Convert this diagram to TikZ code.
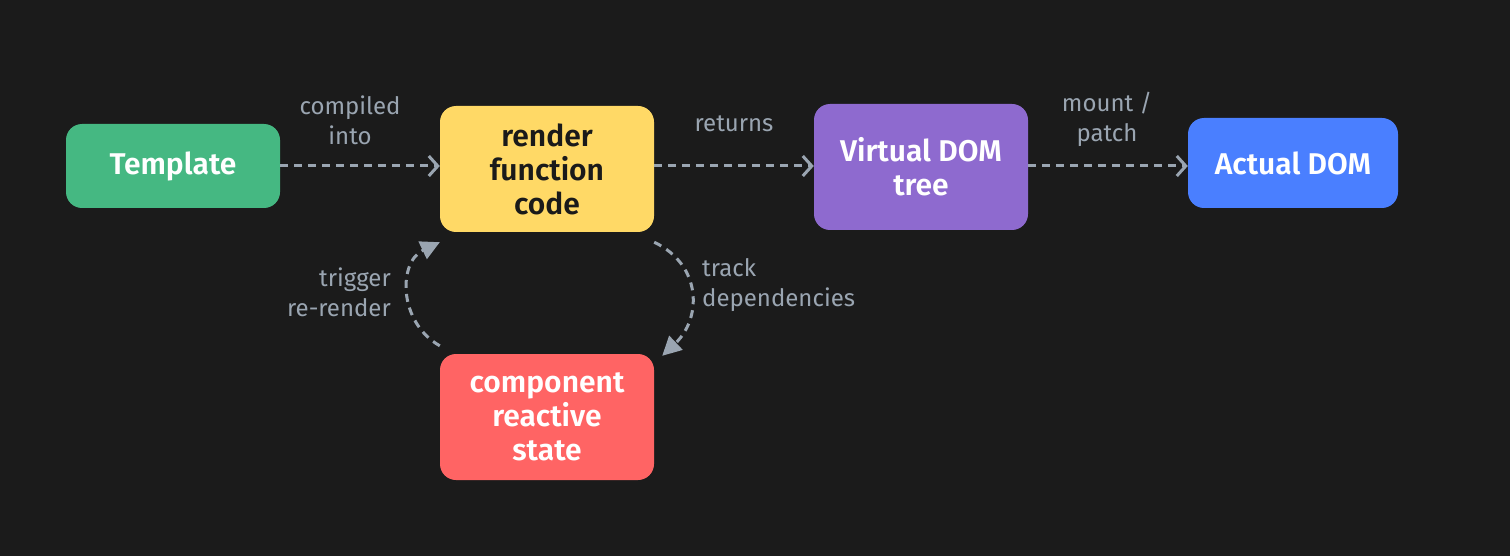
\documentclass[tikz,border=0pt]{standalone}
\usepackage{fontspec}
\setmainfont{Fira Sans}
\newfontfamily\semib{Fira Sans SemiBold}
\usetikzlibrary{arrows.meta}
\definecolor{bg}{HTML}{1B1B1B}
\definecolor{cgreen}{HTML}{45B882}
\definecolor{cyellow}{HTML}{FFD966}
\definecolor{cpurple}{HTML}{8E6ACF}
\definecolor{cblue}{HTML}{4A7FFF}
\definecolor{cred}{HTML}{FF6464}
\definecolor{cgray}{HTML}{9AA5B1}
\definecolor{cdark}{HTML}{1A1A1A}
\tikzset{
  box/.style={rounded corners=16pt, minimum width=214pt, minimum height=126pt, inner sep=0pt,
    align=center, font=\fontsize{30}{34}\selectfont\semib, text=white},
  lbl/.style={text=cgray, font=\fontsize{24}{30}\selectfont, inner sep=0pt},
  flow/.style={draw=cgray, line width=3pt, dash pattern=on 8pt off 6pt,
    -{Straight Barb[length=9pt,width=20pt,line width=3pt]}},
  loop/.style={draw=cgray, line width=3pt, dash pattern=on 8pt off 6pt,
    -{Triangle[length=19pt,width=19pt]}}
}
\begin{document}
\begin{tikzpicture}[x=1pt,y=-1pt]
\fill[bg] (0,0) rectangle (1510,556);
\useasboundingbox (0,0) rectangle (1510,556);
\node[box, fill=cgreen, minimum height=84pt] (tpl) at (173,166) {Template};
\node[box, fill=cyellow, text=cdark] (rnd) at (547,169) {render\\function\\code};
\node[box, fill=cpurple] (vdom) at (921,167) {Virtual DOM\\tree};
\node[box, fill=cblue, minimum width=210pt, minimum height=90pt] (adom) at (1293,163) {Actual DOM};
\node[box, fill=cred] (comp) at (547,417) {component\\reactive\\state};

\coordinate (a1) at (tpl.east |- 0,166);
\coordinate (a2) at (rnd.west |- 0,166);
\coordinate (b1) at (rnd.east |- 0,166);
\coordinate (b2) at (vdom.west |- 0,166);
\coordinate (c1) at (vdom.east |- 0,166);
\coordinate (c2) at (adom.west |- 0,166);
\draw[flow] (a1) -- (a2);
\draw[flow] (b1) -- (b2);
\draw[flow] (c1) -- (c2);

\draw[loop] ([yshift=-10pt]rnd.south east) .. controls (702,265) and (702,318) .. ([xshift=8pt,yshift=-2pt]comp.north east);
\draw[loop] ([yshift=8pt]comp.north west) .. controls (398,322) and (398,262) .. ([yshift=-10pt]rnd.south west);

\node[lbl, align=center] (l1) at (350,120) {compiled\\into};
\node[lbl, align=center] (l2) at (734,124) {returns};
\node[lbl, align=center] (l3) at (1107,119) {mount /\\patch};
\node[lbl, align=right, anchor=east] (l4) at (391,292) {trigger\\re-render};
\node[lbl, align=left, anchor=west] (l5) at (702,285) {track\\dependencies};
\end{tikzpicture}
\end{document}
